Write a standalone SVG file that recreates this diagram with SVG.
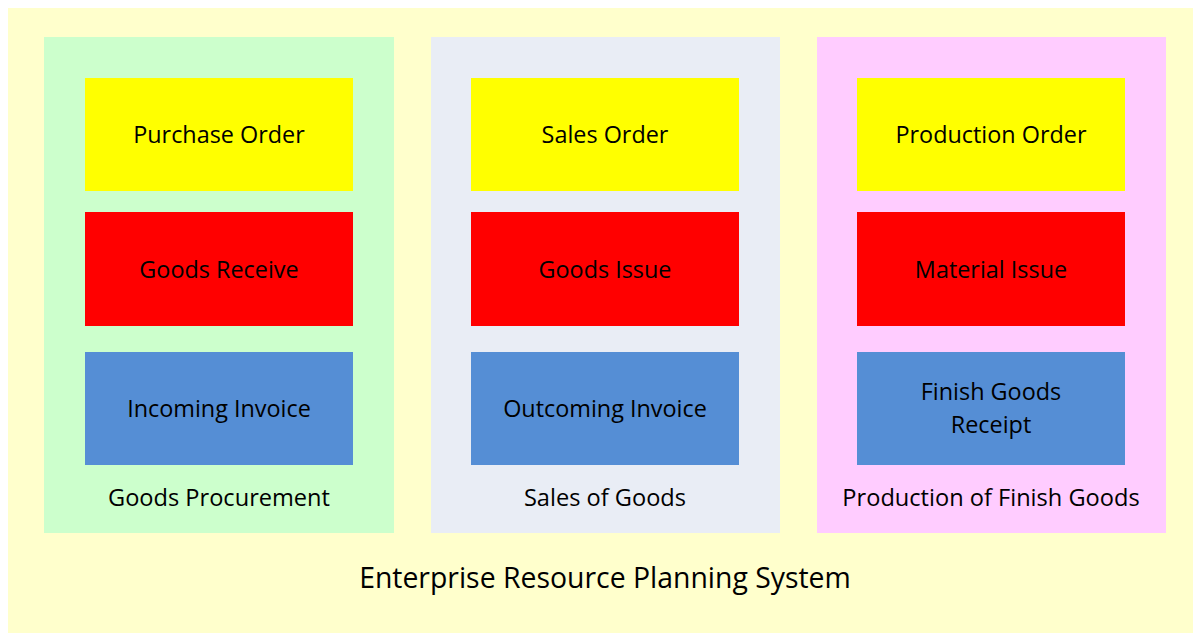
<svg xmlns="http://www.w3.org/2000/svg" width="1193" height="633" viewBox="0 0 1193 633">
<style>
text{font-family:"Open Sans","Liberation Sans",sans-serif;fill:#000;text-anchor:middle}
.t{font-size:23.4px}
.p{font-size:23.6px}
.y{fill:#FFFF00}.r{fill:#FF0000}.b{fill:#558ED5}
</style>
<rect x="0" y="0" width="1193" height="633" fill="#fff"/>
<g id="erp">
<rect x="8" y="8" width="1185" height="625" fill="#FFFFCC"/>
<text x="605" y="588" style="font-size:28.4px">Enterprise Resource Planning System</text>
</g>
<g id="procurement">
<rect x="44" y="37" width="350" height="496" fill="#CCFFCC"/>
<text class="p" x="219" y="506">Goods Procurement</text>
</g>
<g id="sales">
<rect x="431" y="37" width="349" height="496" fill="#E9EDF5"/>
<text class="p" x="605" y="506">Sales of Goods</text>
</g>
<g id="production">
<rect x="817" y="37" width="349" height="496" fill="#FFCCFF"/>
<text class="p" x="991" y="506">Production of Finish Goods</text>
</g>
<g id="purchase-order"><rect class="y" x="85" y="78" width="268" height="113"/><text class="t" x="219" y="143">Purchase Order</text></g>
<g id="goods-receive"><rect class="r" x="85" y="212" width="268" height="114"/><text class="t" x="219" y="278">Goods Receive</text></g>
<g id="incoming-invoice"><rect class="b" x="85" y="352" width="268" height="113"/><text class="t" x="219" y="417">Incoming Invoice</text></g>
<g id="sales-order"><rect class="y" x="471" y="78" width="268" height="113"/><text class="t" x="605" y="143">Sales Order</text></g>
<g id="goods-issue"><rect class="r" x="471" y="212" width="268" height="114"/><text class="t" x="605" y="278">Goods Issue</text></g>
<g id="outcoming-invoice"><rect class="b" x="471" y="352" width="268" height="113"/><text class="t" x="605" y="417">Outcoming Invoice</text></g>
<g id="production-order"><rect class="y" x="857" y="78" width="268" height="113"/><text class="t" x="991" y="143">Production Order</text></g>
<g id="material-issue"><rect class="r" x="857" y="212" width="268" height="114"/><text class="t" x="991" y="278">Material Issue</text></g>
<g id="finish-goods-receipt"><rect class="b" x="857" y="352" width="268" height="113"/><text class="t" x="991" y="400">Finish Goods</text><text class="t" x="991" y="433">Receipt</text></g>
<g id="connectors"/>
</svg>
